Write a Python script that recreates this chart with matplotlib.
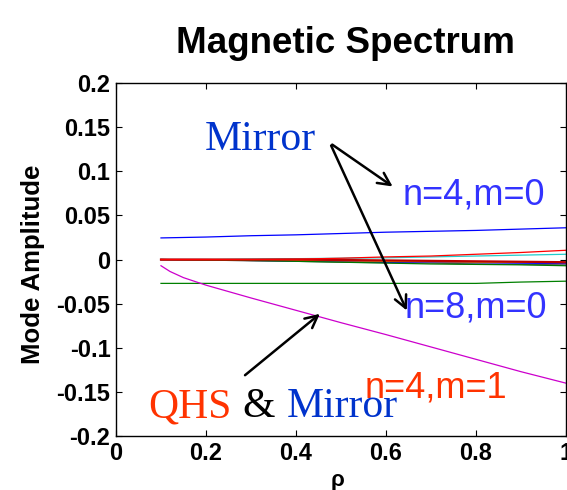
import numpy as np
import matplotlib
matplotlib.use('Agg')
import matplotlib.pyplot as plt

plt.rcParams['font.family'] = ['Liberation Sans', 'DejaVu Sans']

# rho grid and mode amplitudes
rho = [0.1, 0.2, 0.3, 0.4, 0.5, 0.6, 0.7, 0.8, 0.9, 1.0]
rho_n4m1 = [0.1, 0.12, 0.15, 0.2, 0.3, 0.4, 0.5, 0.6, 0.7, 0.8, 0.9, 1.0]

mirror_n4m0 = [0.0245, 0.0255, 0.027, 0.028, 0.0295, 0.031, 0.032, 0.033, 0.0345, 0.036]
mode_n4m1 = [-0.007, -0.0135, -0.0205, -0.029, -0.0435, -0.0575, -0.0715, -0.085,
             -0.099, -0.113, -0.127, -0.140]
mirror_n8m0 = [-0.027, -0.027, -0.027, -0.027, -0.027, -0.027, -0.027, -0.027, -0.0255, -0.0245]
red_mode = [0, 0, 0, 0.0005, 0.0015, 0.003, 0.004, 0.006, 0.008, 0.0105]
cyan_mode = [0, 0, 0.0005, 0.001, 0.0015, 0.002, 0.003, 0.004, 0.005, 0.006]
darkred_mode = [0, 0, 0, 0, -0.0005, -0.001, -0.0015, -0.002, -0.0025, -0.003]
orange_mode = [0, -0.0005, -0.001, -0.001, -0.0015, -0.002, -0.0025, -0.003, -0.003, -0.0035]
blue_mode = [0, -0.0005, -0.001, -0.0015, -0.002, -0.003, -0.003, -0.0035, -0.004, -0.0045]
gray_mode = [0, -0.0005, -0.0015, -0.002, -0.003, -0.0035, -0.004, -0.005, -0.0055, -0.006]
green_mode = [0, -0.0005, -0.001, -0.002, -0.003, -0.004, -0.005, -0.0055, -0.006, -0.007]
navy_mode = [0, 0, -0.0005, -0.001, -0.002, -0.002, -0.0025, -0.003, -0.0035, -0.004]

xticks = [0, 0.2, 0.4, 0.6, 0.8, 1]
xticklabels = ['0', '0.2', '0.4', '0.6', '0.8', '1']
yticks = [-0.2, -0.15, -0.1, -0.05, 0, 0.05, 0.1, 0.15, 0.2]
yticklabels = ['-0.2', '-0.15', '-0.1', '-0.05', '0', '0.05', '0.1', '0.15', '0.2']

fig = plt.figure(figsize=(5.67, 4.9), dpi=100)
ax = fig.add_axes([0.2046, 0.110, 0.7934, 0.7206])

lw = 0.9
ax.plot(rho, mirror_n4m0, color='#0000ff', lw=lw)
ax.plot(rho, mirror_n8m0, color='#008000', lw=lw)
ax.plot(rho_n4m1, mode_n4m1, color='#cc00cc', lw=lw)
ax.plot(rho, cyan_mode, color='#22cccc', lw=lw)
ax.plot(rho, gray_mode, color='#555555', lw=lw)
ax.plot(rho, navy_mode, color='#000099', lw=lw)
ax.plot(rho, blue_mode, color='#0000ff', lw=lw)
ax.plot(rho, orange_mode, color='#e69900', lw=lw)
ax.plot(rho, green_mode, color='#007700', lw=lw)
ax.plot(rho, darkred_mode, color='#bb0000', lw=1.6)
ax.plot(rho, red_mode, color='#ff0000', lw=lw)

ax.set_xlim(0, 1)
ax.set_ylim(-0.2, 0.2)
ax.set_xticks(xticks)
ax.set_xticklabels(xticklabels, fontsize=17, fontweight='bold')
ax.set_yticks(yticks)
ax.set_yticklabels(yticklabels, fontsize=17, fontweight='bold')
ax.tick_params(direction='in', length=4, width=0.8, top=True, right=True, pad=4)
for s in ax.spines.values():
    s.set_linewidth(1.0)

fig.text(345 / 567, 1 - 53 / 490, 'Magnetic Spectrum', ha='center', va='baseline',
         fontsize=26.5, fontweight='bold')
fig.text(33 / 567, 1 - 264 / 490, 'Mode Amplitude', rotation=90, ha='center', va='center',
         fontsize=18.5, fontweight='bold')
fig.text(338 / 567, 1 - 480 / 490, 'ρ', ha='center', va='center', fontsize=16, fontweight='bold')

# annotations
serif = 'Liberation Serif'
ax.text(0.198, 0.124, 'Mirror', color='#0033cc', fontsize=30, family=serif, va='baseline')
ax.text(0.636, 0.0618, 'n=4,m=0', color='#3333ff', fontsize=26, va='baseline')
ax.text(0.642, -0.0655, 'n=8,m=0', color='#3333ff', fontsize=26, va='baseline')
ax.text(0.553, -0.156, 'n=4,m=1', color='#ff3300', fontsize=26, va='baseline')
ax.text(0.0711, -0.1785, 'QHS', color='#ff3300', fontsize=30, family=serif, va='baseline')
ax.text(0.282, -0.1785, '&', color='black', fontsize=30, family=serif, va='baseline')
ax.text(0.38, -0.1785, 'Mirror', color='#0033cc', fontsize=30, family=serif, va='baseline')

arrow = dict(arrowstyle='->', color='black', lw=1.8, mutation_scale=22)
ax.annotate('', xy=(0.62, 0.081), xytext=(0.4756, 0.132), arrowprops=arrow)
ax.annotate('', xy=(0.649, -0.0606), xytext=(0.4756, 0.132), arrowprops=arrow)
ax.annotate('', xy=(0.458, -0.0595), xytext=(0.282, -0.133), arrowprops=arrow)

fig.savefig('out.png', dpi=100)
